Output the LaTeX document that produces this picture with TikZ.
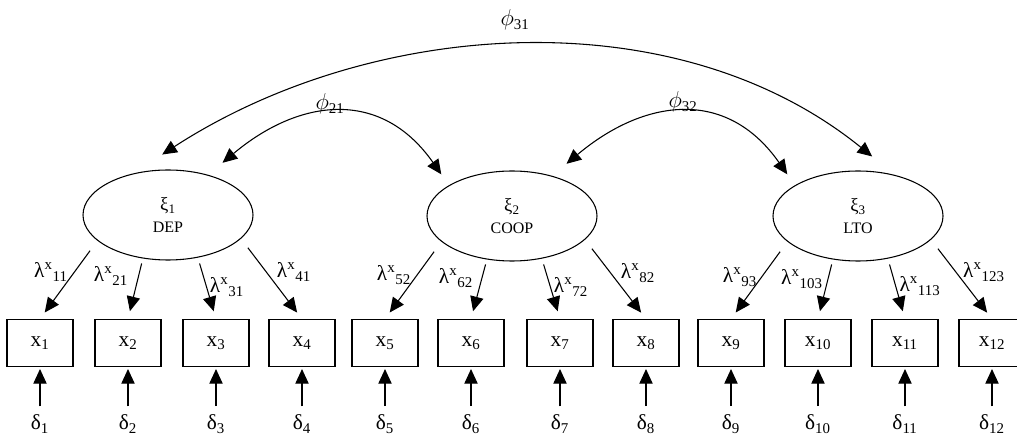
\documentclass[tikz,border=0pt]{standalone}
\usepackage{fontspec}
\setmainfont{Liberation Serif}
\usetikzlibrary{arrows.meta,shapes.geometric}

\begin{document}
\begin{tikzpicture}[x=0.75pt,y=-0.75pt,line width=0.8pt,
  every node/.append style={inner sep=0pt},
  latent/.style={draw,ellipse,minimum width=127.5pt,minimum height=67.5pt,align=center,font=\fontsize{12}{16}\selectfont},
  obs/.style={draw,rectangle,minimum width=49.5pt,minimum height=35.25pt,font=\fontsize{16}{18}\selectfont},
  err/.style={font=\fontsize{16}{18}\selectfont},
  lab/.style={font=\fontsize{16}{18}\selectfont},
  arr/.style={-{Triangle[length=11pt,width=10pt]},shorten >=6pt},
  cov/.style={{Triangle[length=11pt,width=10pt]}-{Triangle[length=11pt,width=10pt]}}]
\useasboundingbox (0,0) rectangle (1017,441);

\node[latent] (DEP) at (168,215) {{\fontsize{14}{16}\selectfont ξ\textsubscript{1}}\\DEP};
\node[latent] (COOP) at (512,216) {{\fontsize{14}{16}\selectfont ξ\textsubscript{2}}\\COOP};
\node[latent] (LTO) at (858,216) {{\fontsize{14}{16}\selectfont ξ\textsubscript{3}}\\LTO};

\node[obs] (x1) at (40,343) {x\textsubscript{1}};
\node[obs] (x2) at (128,343) {x\textsubscript{2}};
\node[obs] (x3) at (216,343) {x\textsubscript{3}};
\node[obs] (x4) at (302,343) {x\textsubscript{4}};
\node[obs] (x5) at (385,343) {x\textsubscript{5}};
\node[obs] (x6) at (471,343) {x\textsubscript{6}};
\node[obs] (x7) at (560,343) {x\textsubscript{7}};
\node[obs] (x8) at (646,343) {x\textsubscript{8}};
\node[obs] (x9) at (731,343) {x\textsubscript{9}};
\node[obs] (x10) at (818,343) {x\textsubscript{10}};
\node[obs] (x11) at (905,343) {x\textsubscript{11}};
\node[obs] (x12) at (992,343) {x\textsubscript{12}};

\node[err] (d1) at (40,424) {δ\textsubscript{1}};
\node[err] (d2) at (128,424) {δ\textsubscript{2}};
\node[err] (d3) at (216,424) {δ\textsubscript{3}};
\node[err] (d4) at (302,424) {δ\textsubscript{4}};
\node[err] (d5) at (385,424) {δ\textsubscript{5}};
\node[err] (d6) at (471,424) {δ\textsubscript{6}};
\node[err] (d7) at (560,424) {δ\textsubscript{7}};
\node[err] (d8) at (646,424) {δ\textsubscript{8}};
\node[err] (d9) at (731,424) {δ\textsubscript{9}};
\node[err] (d10) at (818,424) {δ\textsubscript{10}};
\node[err] (d11) at (905,424) {δ\textsubscript{11}};
\node[err] (d12) at (992,424) {δ\textsubscript{12}};

\draw[arr,shorten <=9.3pt] (DEP.200) -- (x1.north);
\draw[arr,shorten <=3.8pt] (DEP.240) -- (x2.north);
\draw[arr,shorten <=4.5pt] (DEP.305) -- (x3.north);
\draw[arr,shorten <=8.5pt] (DEP.342) -- (x4.north);
\draw[arr,shorten <=9.3pt] (COOP.200) -- (x5.north);
\draw[arr,shorten <=3.8pt] (COOP.240) -- (x6.north);
\draw[arr,shorten <=4.5pt] (COOP.305) -- (x7.north);
\draw[arr,shorten <=8.5pt] (COOP.342) -- (x8.north);
\draw[arr,shorten <=9.3pt] (LTO.200) -- (x9.north);
\draw[arr,shorten <=3.8pt] (LTO.240) -- (x10.north);
\draw[arr,shorten <=4.5pt] (LTO.305) -- (x11.north);
\draw[arr,shorten <=8.5pt] (LTO.342) -- (x12.north);

\node[lab] (l11) at (51,272) {λ\textsuperscript{x}\textsubscript{11}};
\node[lab] (l21) at (111,276) {λ\textsuperscript{x}\textsubscript{21}};
\node[lab] (l31) at (227,287) {λ\textsuperscript{x}\textsubscript{31}};
\node[lab] (l41) at (294,272) {λ\textsuperscript{x}\textsubscript{41}};
\node[lab] (l52) at (394,275) {λ\textsuperscript{x}\textsubscript{52}};
\node[lab] (l62) at (456,278) {λ\textsuperscript{x}\textsubscript{62}};
\node[lab] (l72) at (571,287) {λ\textsuperscript{x}\textsubscript{72}};
\node[lab] (l82) at (638,273) {λ\textsuperscript{x}\textsubscript{82}};
\node[lab] (l93) at (740,277) {λ\textsuperscript{x}\textsubscript{93}};
\node[lab] (l103) at (802,279) {λ\textsuperscript{x}\textsubscript{103}};
\node[lab] (l113) at (920,286) {λ\textsuperscript{x}\textsubscript{113}};
\node[lab] (l123) at (984,272) {λ\textsuperscript{x}\textsubscript{123}};

\draw[arr,shorten <=6pt,shorten >=1.5pt] (d1) -- (x1);
\draw[arr,shorten <=6pt,shorten >=1.5pt] (d2) -- (x2);
\draw[arr,shorten <=6pt,shorten >=1.5pt] (d3) -- (x3);
\draw[arr,shorten <=6pt,shorten >=1.5pt] (d4) -- (x4);
\draw[arr,shorten <=6pt,shorten >=1.5pt] (d5) -- (x5);
\draw[arr,shorten <=6pt,shorten >=1.5pt] (d6) -- (x6);
\draw[arr,shorten <=6pt,shorten >=1.5pt] (d7) -- (x7);
\draw[arr,shorten <=6pt,shorten >=1.5pt] (d8) -- (x8);
\draw[arr,shorten <=6pt,shorten >=1.5pt] (d9) -- (x9);
\draw[arr,shorten <=6pt,shorten >=1.5pt] (d10) -- (x10);
\draw[arr,shorten <=6pt,shorten >=1.5pt] (d11) -- (x11);
\draw[arr,shorten <=6pt,shorten >=1.5pt] (d12) -- (x12);

\draw[cov,shorten <=26pt,shorten >=22pt] (DEP.130) to[out=33,in=141,looseness=0.95] (LTO.48);
\draw[cov,shorten <=14pt,shorten >=10pt] (DEP.45) to[out=40,in=125,looseness=1.26] (COOP.154);
\draw[cov,shorten <=14pt,shorten >=10pt] (COOP.45) to[out=40,in=125,looseness=1.26] (LTO.154);

\node[lab] (p31) at (515,20) {$\phi$\textsubscript{31}};
\node[lab] (p21) at (330,104) {$\phi$\textsubscript{21}};
\node[lab] (p32) at (683,102) {$\phi$\textsubscript{32}};
\end{tikzpicture}
\end{document}
